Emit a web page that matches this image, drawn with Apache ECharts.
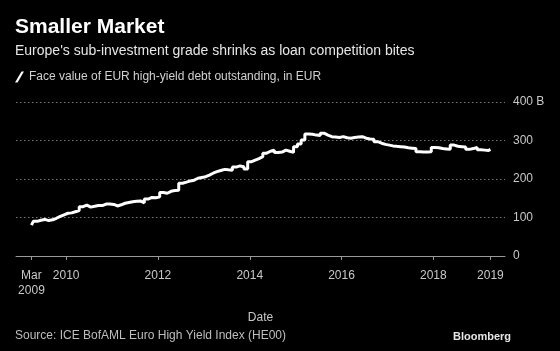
<!DOCTYPE html>
<html>
<head>
<meta charset="utf-8">
<script src="https://cdn.jsdelivr.net/npm/echarts@6/dist/echarts.min.js"></script>
<style>
  html, body { margin: 0; padding: 0; background: #000; }
  #chart { width: 560px; height: 351px; }
</style>
</head>
<body>
<div id="chart"></div>
<script>
// month-end face value, EUR billions
var values2009 = [80, 90, 93, 95, 92, 94, 98, 103, 107, 111]; // Mar - Dec
var values2010 = [112, 115, 118, 128, 132, 127, 129, 131, 131, 135, 135, 134];
var values2011 = [130, 133, 137, 139, 141, 142, 143, 138, 148, 152, 151, 154];
var values2012 = [165, 163, 168, 170, 171, 189, 192, 195, 197, 202, 204, 206];
var values2013 = [210, 215, 219, 222, 225, 224, 223, 231, 234, 232, 226, 245];
var values2014 = [249, 253, 258, 267, 272, 275, 269, 270, 275, 272, 269, 284];
var values2015 = [291, 301, 317, 316, 314, 313, 319, 314, 310, 309, 308, 310];
var values2016 = [307, 306, 308, 309, 310, 306, 304, 303, 297, 293, 290, 288];
var values2017 = [286, 285, 284, 283, 281, 280, 279, 271, 270, 270, 271, 282];
var values2018 = [281, 279, 278, 277, 288, 285, 284, 283, 277, 279, 282, 276];
var values2019 = [275, 274, 277]; // Jan - Mar

var tickDates = ['2009-03-31', '2010-01-01', '2012-01-01', '2014-01-01', '2016-01-01', '2018-01-01', '2019-03-31'];
var tickLabels = ['Mar\n2009', '2010', '2012', '2014', '2016', '2018', '2019'];

var seriesName = 'Face value of EUR high-yield debt outstanding, in EUR';

function ts(s){
    var p = s.split('-');
    return Date.UTC(+p[0], +p[1]-1, +p[2]);
}

var years = [
    [2009, 2, values2009], [2010, 0, values2010], [2011, 0, values2011],
    [2012, 0, values2012], [2013, 0, values2013], [2014, 0, values2014],
    [2015, 0, values2015], [2016, 0, values2016], [2017, 0, values2017],
    [2018, 0, values2018], [2019, 0, values2019]
];
var data = [];
years.forEach(function(y){
    for(var i=0; i<y[2].length; i++){
        // last day of the month
        data.push([Date.UTC(y[0], y[1]+i+1, 0), y[2][i]]);
    }
});

var tickValues = tickDates.map(ts);

var chart = echarts.init(document.getElementById('chart'));
var font = 'Liberation Sans';

var option = {
    backgroundColor: '#000',
    animation: false,
    title: [{
        text: 'Smaller Market',
        left: 10, top: 12,
        textStyle: { color: '#fff', fontSize: 21, fontWeight: 'bold', fontFamily: font }
    }, {
        text: "Europe's sub-investment grade shrinks as loan competition bites",
        left: 10, top: 39,
        textStyle: { color: '#e6e6e6', fontSize: 14, fontWeight: 'normal', fontFamily: font }
    }, {
        text: 'Source: ICE BofAML Euro High Yield Index (HE00)',
        left: 10, top: 325,
        textStyle: { color: '#bdbdbd', fontSize: 12, fontWeight: 'normal', fontFamily: font }
    }, {
        text: 'Bloomberg',
        right: 44, top: 326,
        textStyle: { color: '#e6e6e6', fontSize: 11, fontWeight: 'bold', fontFamily: font }
    }],
    legend: {
        left: 10, top: 66,
        itemWidth: 9, itemHeight: 11,
        data: [{ name: seriesName, icon: 'path://M0,11 L2.5,11 L9,0 L6.5,0 Z' }],
        textStyle: { color: '#d0d0d0', fontSize: 12, fontFamily: font },
        selectedMode: false
    },
    grid: { left: 16, right: 55, top: 102, bottom: 95, containLabel: false },
    xAxis: {
        type: 'value',
        min: ts('2008-11-28'),
        max: ts('2019-07-25'),
        name: 'Date',
        nameLocation: 'middle',
        nameGap: 56,
        nameTextStyle: { color: '#c8c8c8', fontSize: 12, fontFamily: font },
        axisLine: { lineStyle: { color: '#9a9a9a', width: 1 } },
        axisTick: { show: true, length: 4, lineStyle: { color: '#9a9a9a' }, customValues: tickValues },
        axisLabel: {
            color: '#c8c8c8', fontSize: 12, fontFamily: font, margin: 12, lineHeight: 15,
            customValues: tickValues,
            formatter: function(v){
                var i = tickValues.indexOf(v);
                return i > -1 ? tickLabels[i] : '';
            }
        },
        splitLine: { show: false }
    },
    yAxis: {
        type: 'value',
        position: 'right',
        min: 0, max: 400, interval: 100,
        axisLine: { show: false },
        axisTick: { show: false },
        axisLabel: {
            color: '#c8c8c8', fontSize: 12, fontFamily: font, margin: 8,
            formatter: function(v){ return v == 400 ? '400 B' : v; }
        },
        splitLine: { lineStyle: { color: '#777', type: [1.5, 2.5], width: 1 } }
    },
    series: [{
        name: seriesName,
        type: 'line',
        step: 'middle',
        showSymbol: false,
        color: '#fff',
        lineStyle: { color: '#fff', width: 3 },
        data: data
    }]
};
chart.setOption(option);
</script>
</body>
</html>
